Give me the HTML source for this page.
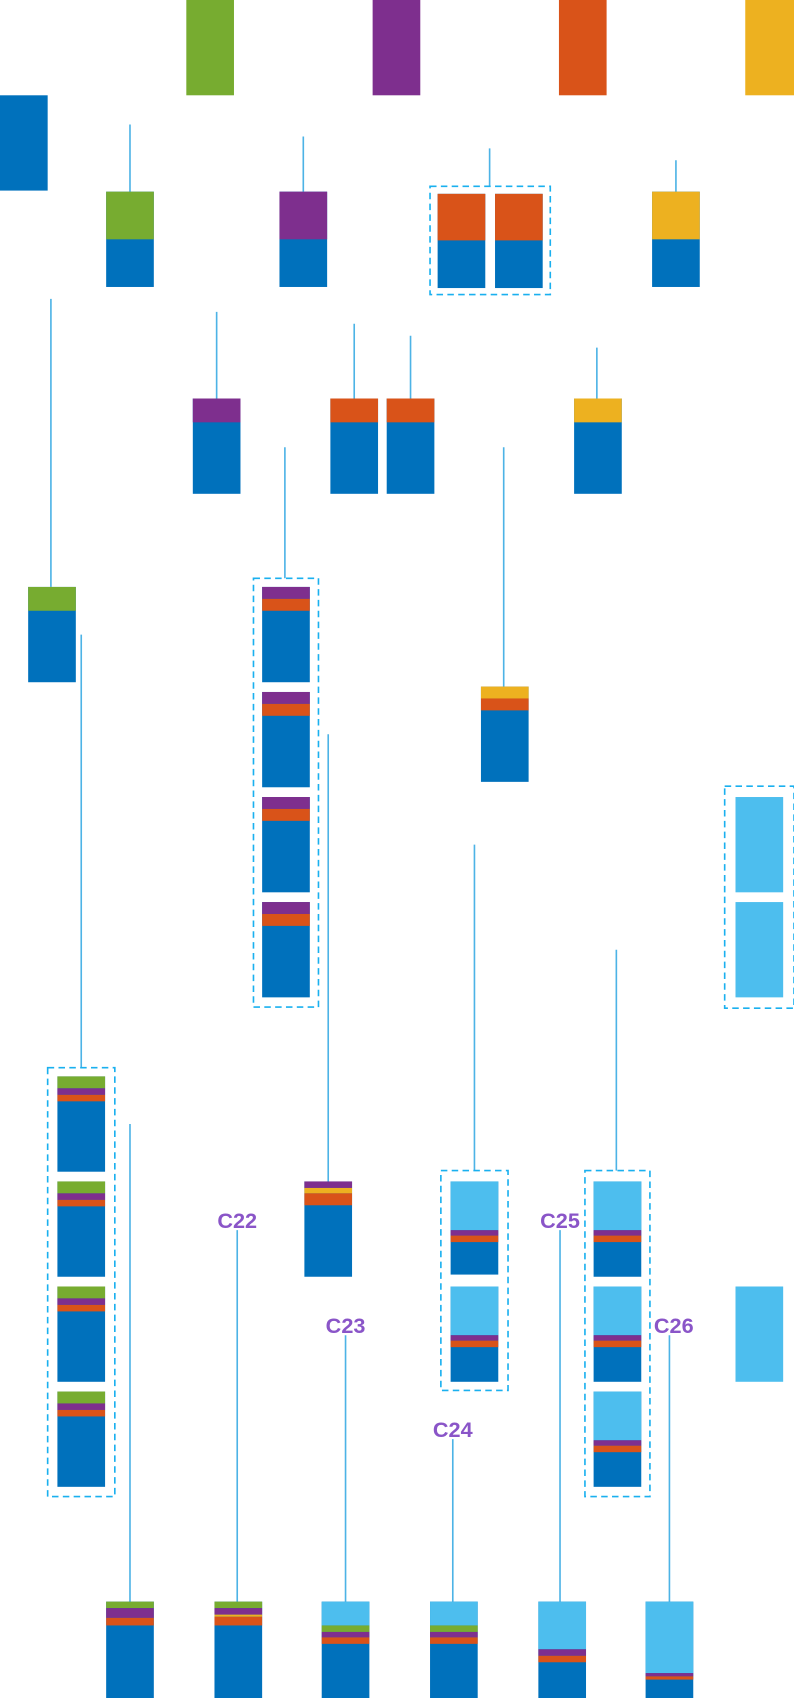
<!DOCTYPE html>
<html><head><meta charset="utf-8"><style>html,body{margin:0;padding:0;background:#fff}svg{display:block}</style></head><body>
<svg width="794" height="1698" viewBox="0 0 733 1568" preserveAspectRatio="none" xmlns="http://www.w3.org/2000/svg">
<g fill="none" stroke="#4db3e6" stroke-width="1.5">
<path d="M120 115V177M280 126V177M452 137V172M624 148V177M47 276V542M200 288V368M327 299V368M379 310V368M551 321V368M263 413V534M465 413V634M75 586V986M303 678V1091M438 780V1081M569 877V1081M120 1038V1479M219 1136V1479M319 1233V1479M418 1329V1479M517 1136V1479M618 1233V1479"/>
</g>
<g fill="none" stroke="#1ab0ef" stroke-width="1.5" stroke-dasharray="6,4">
<rect x="397" y="172" width="111" height="100"/>
<rect x="234" y="534" width="60" height="396"/>
<rect x="669" y="726" width="64" height="205"/>
<rect x="407" y="1081" width="62" height="203"/>
<rect x="540" y="1081" width="60" height="301"/>
<rect x="44" y="986" width="62" height="396"/>
</g>
<!-- top row -->
<rect x="172" y="0" width="44" height="88" fill="#77ac30"/>
<rect x="344" y="0" width="44" height="88" fill="#7e2f8e"/>
<rect x="516" y="0" width="44" height="88" fill="#d95319"/>
<rect x="688" y="0" width="45" height="88" fill="#edb120"/>
<rect x="0" y="88" width="44" height="88" fill="#0071bc"/>
<!-- row 2 -->
<rect x="98" y="177" width="44" height="88" fill="#0071bc"/><rect x="98" y="177" width="44" height="44" fill="#77ac30"/>
<rect x="258" y="177" width="44" height="88" fill="#0071bc"/><rect x="258" y="177" width="44" height="44" fill="#7e2f8e"/>
<rect x="404" y="179" width="44" height="87" fill="#0071bc"/><rect x="404" y="179" width="44" height="43" fill="#d95319"/>
<rect x="457" y="179" width="44" height="87" fill="#0071bc"/><rect x="457" y="179" width="44" height="43" fill="#d95319"/>
<rect x="602" y="177" width="44" height="88" fill="#0071bc"/><rect x="602" y="177" width="44" height="44" fill="#edb120"/>
<!-- row 3 -->
<rect x="178" y="368" width="44" height="88" fill="#0071bc"/><rect x="178" y="368" width="44" height="22" fill="#7e2f8e"/>
<rect x="305" y="368" width="44" height="88" fill="#0071bc"/><rect x="305" y="368" width="44" height="22" fill="#d95319"/>
<rect x="357" y="368" width="44" height="88" fill="#0071bc"/><rect x="357" y="368" width="44" height="22" fill="#d95319"/>
<rect x="530" y="368" width="44" height="88" fill="#0071bc"/><rect x="530" y="368" width="44" height="22" fill="#edb120"/>
<rect x="26" y="542" width="44" height="88" fill="#0071bc"/><rect x="26" y="542" width="44" height="22" fill="#77ac30"/>
<!-- purple/orange stack -->
<g>
<rect x="242" y="542" width="44" height="88" fill="#0071bc"/><rect x="242" y="542" width="44" height="11" fill="#7e2f8e"/><rect x="242" y="553" width="44" height="11" fill="#d95319"/>
<rect x="242" y="639" width="44" height="88" fill="#0071bc"/><rect x="242" y="639" width="44" height="11" fill="#7e2f8e"/><rect x="242" y="650" width="44" height="11" fill="#d95319"/>
<rect x="242" y="736" width="44" height="88" fill="#0071bc"/><rect x="242" y="736" width="44" height="11" fill="#7e2f8e"/><rect x="242" y="747" width="44" height="11" fill="#d95319"/>
<rect x="242" y="833" width="44" height="88" fill="#0071bc"/><rect x="242" y="833" width="44" height="11" fill="#7e2f8e"/><rect x="242" y="844" width="44" height="11" fill="#d95319"/>
</g>
<rect x="444" y="634" width="44" height="88" fill="#0071bc"/><rect x="444" y="634" width="44" height="11" fill="#edb120"/><rect x="444" y="645" width="44" height="11" fill="#d95319"/>
<rect x="679" y="736" width="44" height="88" fill="#4dbeee"/><rect x="679" y="833" width="44" height="88" fill="#4dbeee"/>
<rect x="281" y="1091" width="44" height="88" fill="#0071bc"/><rect x="281" y="1091" width="44" height="6" fill="#7e2f8e"/><rect x="281" y="1097" width="44" height="5" fill="#edb120"/><rect x="281" y="1102" width="44" height="11" fill="#d95319"/>
<!-- left stack -->
<g>
<rect x="53" y="994" width="44" height="88" fill="#0071bc"/><rect x="53" y="994" width="44" height="11" fill="#77ac30"/><rect x="53" y="1005" width="44" height="6" fill="#7e2f8e"/><rect x="53" y="1011" width="44" height="6" fill="#d95319"/>
<rect x="53" y="1091" width="44" height="88" fill="#0071bc"/><rect x="53" y="1091" width="44" height="11" fill="#77ac30"/><rect x="53" y="1102" width="44" height="6" fill="#7e2f8e"/><rect x="53" y="1108" width="44" height="6" fill="#d95319"/>
<rect x="53" y="1188" width="44" height="88" fill="#0071bc"/><rect x="53" y="1188" width="44" height="11" fill="#77ac30"/><rect x="53" y="1199" width="44" height="6" fill="#7e2f8e"/><rect x="53" y="1205" width="44" height="6" fill="#d95319"/>
<rect x="53" y="1285" width="44" height="88" fill="#0071bc"/><rect x="53" y="1285" width="44" height="11" fill="#77ac30"/><rect x="53" y="1296" width="44" height="6" fill="#7e2f8e"/><rect x="53" y="1302" width="44" height="6" fill="#d95319"/>
</g>
<!-- light blue stacks -->
<g>
<rect x="416" y="1091" width="44" height="86" fill="#0071bc"/><rect x="416" y="1091" width="44" height="45" fill="#4dbeee"/><rect x="416" y="1136" width="44" height="5" fill="#7e2f8e"/><rect x="416" y="1141" width="44" height="6" fill="#d95319"/>
<rect x="416" y="1188" width="44" height="88" fill="#0071bc"/><rect x="416" y="1188" width="44" height="45" fill="#4dbeee"/><rect x="416" y="1233" width="44" height="5" fill="#7e2f8e"/><rect x="416" y="1238" width="44" height="6" fill="#d95319"/>
<rect x="548" y="1091" width="44" height="88" fill="#0071bc"/><rect x="548" y="1091" width="44" height="45" fill="#4dbeee"/><rect x="548" y="1136" width="44" height="5" fill="#7e2f8e"/><rect x="548" y="1141" width="44" height="6" fill="#d95319"/>
<rect x="548" y="1188" width="44" height="88" fill="#0071bc"/><rect x="548" y="1188" width="44" height="45" fill="#4dbeee"/><rect x="548" y="1233" width="44" height="5" fill="#7e2f8e"/><rect x="548" y="1238" width="44" height="6" fill="#d95319"/>
<rect x="548" y="1285" width="44" height="88" fill="#0071bc"/><rect x="548" y="1285" width="44" height="45" fill="#4dbeee"/><rect x="548" y="1330" width="44" height="5" fill="#7e2f8e"/><rect x="548" y="1335" width="44" height="6" fill="#d95319"/>
</g>
<rect x="679" y="1188" width="44" height="88" fill="#4dbeee"/>
<!-- labels -->
<g font-family="Liberation Sans, sans-serif" font-weight="bold" font-size="20" fill="#8a55c8" text-anchor="middle">
<text x="219" y="1134">C22</text>
<text x="319" y="1231">C23</text>
<text x="418" y="1327">C24</text>
<text x="517" y="1134">C25</text>
<text x="622" y="1231">C26</text>
</g>
<!-- bottom row -->
<rect x="98" y="1479" width="44" height="89" fill="#0071bc"/><rect x="98" y="1479" width="44" height="6" fill="#77ac30"/><rect x="98" y="1485" width="44" height="9" fill="#7e2f8e"/><rect x="98" y="1494" width="44" height="7" fill="#d95319"/>
<rect x="198" y="1479" width="44" height="89" fill="#0071bc"/><rect x="198" y="1479" width="44" height="6" fill="#77ac30"/><rect x="198" y="1485" width="44" height="6" fill="#7e2f8e"/><rect x="198" y="1491" width="44" height="2" fill="#edb120"/><rect x="198" y="1493" width="44" height="8" fill="#d95319"/>
<rect x="297" y="1479" width="44" height="89" fill="#0071bc"/><rect x="297" y="1479" width="44" height="22" fill="#4dbeee"/><rect x="297" y="1501" width="44" height="6" fill="#77ac30"/><rect x="297" y="1507" width="44" height="5" fill="#7e2f8e"/><rect x="297" y="1512" width="44" height="6" fill="#d95319"/>
<rect x="397" y="1479" width="44" height="89" fill="#0071bc"/><rect x="397" y="1479" width="44" height="22" fill="#4dbeee"/><rect x="397" y="1501" width="44" height="6" fill="#77ac30"/><rect x="397" y="1507" width="44" height="5" fill="#7e2f8e"/><rect x="397" y="1512" width="44" height="6" fill="#d95319"/>
<rect x="497" y="1479" width="44" height="89" fill="#0071bc"/><rect x="497" y="1479" width="44" height="44" fill="#4dbeee"/><rect x="497" y="1523" width="44" height="6" fill="#7e2f8e"/><rect x="497" y="1529" width="44" height="6" fill="#d95319"/>
<rect x="596" y="1479" width="44" height="89" fill="#0071bc"/><rect x="596" y="1479" width="44" height="66" fill="#4dbeee"/><rect x="596" y="1545" width="44" height="3" fill="#7e2f8e"/><rect x="596" y="1548" width="44" height="3" fill="#d95319"/>
</svg>
</body></html>
